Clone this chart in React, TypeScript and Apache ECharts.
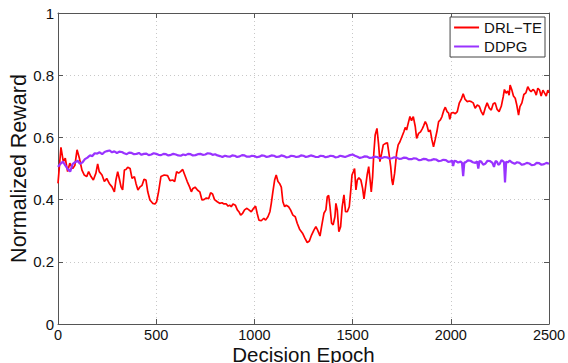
import React, { useEffect, useRef } from "react";
import * as echarts from "echarts";

const xTicks = [0, 500, 1000, 1500, 2000, 2500];
const yTicks = [0, 0.2, 0.4, 0.6, 0.8, 1];
const seriesNames = ["DRL−TE", "DDPG"];

const drlTe: [number, number][] = [
  [0,0.452],[15,0.568],[27,0.522],[37,0.533],[49,0.49],[60,0.517],[75,0.50],[86,0.51],[97,0.56],[109,0.533],
  [122,0.495],[134,0.479],[146,0.474],[156,0.49],[168,0.474],[180,0.463],[193,0.485],[202,0.515],[210,0.49],[224,0.479],
  [236,0.458],[248,0.468],[261,0.452],[275,0.441],[287,0.425],[295,0.463],[304,0.49],[312,0.468],[321,0.441],[329,0.431],
  [338,0.495],[346,0.497],[355,0.504],[367,0.50],[377,0.468],[389,0.474],[397,0.452],[407,0.431],[418,0.441],[428,0.446],
  [438,0.465],[448,0.463],[457,0.425],[468,0.399],[482,0.388],[494,0.386],[502,0.393],[512,0.425],[524,0.474],[541,0.479],
  [558,0.477],[570,0.461],[584,0.463],[594,0.458],[604,0.49],[614,0.485],[624,0.49],[635,0.497],[645,0.48],[658,0.458],
  [670,0.441],[679,0.425],[687,0.436],[698,0.44],[711,0.43],[722,0.425],[733,0.399],[743,0.40],[755,0.405],[767,0.403],
  [777,0.422],[787,0.418],[797,0.40],[811,0.393],[823,0.388],[835,0.39],[845,0.386],[857,0.386],[866,0.379],[874,0.382],
  [882,0.377],[891,0.386],[903,0.382],[913,0.367],[921,0.361],[930,0.35],[940,0.356],[950,0.367],[962,0.372],[972,0.367],
  [984,0.361],[996,0.372],[1006,0.379],[1014,0.356],[1023,0.334],[1035,0.332],[1048,0.34],[1057,0.334],[1069,0.345],[1079,0.361],
  [1086,0.388],[1094,0.425],[1103,0.463],[1111,0.479],[1120,0.458],[1128,0.452],[1137,0.44],[1145,0.393],[1154,0.377],[1162,0.382],
  [1174,0.377],[1184,0.367],[1196,0.35],[1208,0.345],[1218,0.324],[1230,0.305],[1245,0.292],[1257,0.276],[1269,0.262],[1280,0.267],
  [1291,0.286],[1303,0.302],[1313,0.313],[1322,0.302],[1334,0.283],[1342,0.313],[1354,0.356],[1364,0.367],[1371,0.409],[1378,0.414],
  [1385,0.377],[1393,0.324],[1401,0.319],[1410,0.345],[1415,0.388],[1422,0.367],[1430,0.297],[1439,0.313],[1447,0.377],[1456,0.415],
  [1464,0.361],[1473,0.361],[1483,0.377],[1490,0.425],[1497,0.479],[1504,0.49],[1510,0.5],[1517,0.431],[1524,0.463],[1532,0.47],
  [1542,0.463],[1551,0.436],[1558,0.402],[1566,0.441],[1574,0.479],[1582,0.506],[1589,0.463],[1595,0.425],[1602,0.474],[1608,0.549],
  [1615,0.608],[1624,0.629],[1632,0.58],[1639,0.522],[1648,0.549],[1656,0.576],[1666,0.58],[1677,0.583],[1685,0.549],[1694,0.506],
  [1700,0.463],[1705,0.447],[1714,0.485],[1724,0.549],[1732,0.576],[1741,0.586],[1751,0.602],[1761,0.618],[1768,0.632],[1775,0.624],
  [1783,0.645],[1792,0.667],[1800,0.654],[1809,0.667],[1819,0.635],[1826,0.597],[1836,0.613],[1846,0.618],[1856,0.629],[1862,0.638],
  [1870,0.651],[1878,0.64],[1887,0.618],[1895,0.624],[1904,0.592],[1912,0.57],[1920,0.592],[1929,0.618],[1938,0.651],[1947,0.656],
  [1955,0.667],[1965,0.688],[1972,0.697],[1981,0.683],[1989,0.678],[1995,0.658],[2002,0.678],[2012,0.68],[2023,0.676],[2033,0.683],
  [2043,0.71],[2053,0.722],[2063,0.74],[2073,0.722],[2084,0.715],[2094,0.717],[2104,0.715],[2114,0.711],[2124,0.694],[2135,0.704],
  [2145,0.70],[2155,0.683],[2165,0.672],[2175,0.694],[2185,0.711],[2196,0.694],[2206,0.688],[2216,0.708],[2226,0.711],[2236,0.69],
  [2246,0.683],[2257,0.70],[2267,0.731],[2273,0.754],[2282,0.742],[2290,0.749],[2297,0.736],[2302,0.768],[2311,0.752],[2319,0.733],
  [2328,0.726],[2336,0.704],[2345,0.672],[2352,0.699],[2362,0.711],[2372,0.738],[2382,0.743],[2392,0.763],[2401,0.752],[2409,0.747],
  [2418,0.754],[2426,0.75],[2435,0.736],[2443,0.758],[2452,0.752],[2460,0.733],[2469,0.752],[2477,0.743],[2486,0.733],[2494,0.752],
  [2500,0.743],
];

const ddpg: [number, number][] = [
  [0,0.505],[12,0.515],[25,0.522],[37,0.51],[50,0.498],[62,0.49],[75,0.515],[87,0.52],[100,0.525],[112,0.515],
  [125,0.52],[137,0.53],[150,0.535],[162,0.542],[175,0.54],[187,0.549],[200,0.548],[212,0.552],[225,0.546],[237,0.553],
  [250,0.556],[262,0.558],[275,0.552],[287,0.555],[300,0.55],[312,0.554],[325,0.553],[337,0.549],[350,0.546],[362,0.551],
  [375,0.55],[387,0.546],[400,0.547],[412,0.55],[425,0.544],[437,0.547],[450,0.548],[462,0.543],[475,0.545],[487,0.549],
  [500,0.547],[512,0.544],[525,0.543],[537,0.547],[550,0.546],[562,0.542],[575,0.544],[587,0.547],[600,0.545],[612,0.542],
  [625,0.541],[637,0.545],[650,0.543],[662,0.547],[675,0.546],[687,0.542],[700,0.543],[712,0.546],[725,0.547],[737,0.544],
  [750,0.545],[762,0.549],[775,0.548],[787,0.544],[800,0.546],[812,0.542],[825,0.540],[837,0.537],[850,0.541],[862,0.539],
  [875,0.538],[887,0.542],[900,0.541],[912,0.537],[925,0.539],[937,0.543],[950,0.542],[962,0.538],[975,0.538],[987,0.541],
  [1000,0.540],[1012,0.536],[1025,0.538],[1037,0.542],[1050,0.541],[1062,0.537],[1075,0.539],[1087,0.542],[1100,0.541],[1112,0.537],
  [1125,0.538],[1137,0.542],[1150,0.540],[1162,0.536],[1175,0.537],[1187,0.541],[1200,0.540],[1212,0.537],[1225,0.538],[1237,0.542],
  [1250,0.541],[1262,0.537],[1275,0.539],[1287,0.542],[1300,0.540],[1312,0.537],[1325,0.537],[1337,0.541],[1350,0.540],[1362,0.536],
  [1375,0.538],[1387,0.541],[1400,0.540],[1412,0.536],[1425,0.537],[1437,0.541],[1450,0.539],[1462,0.537],[1475,0.540],[1487,0.543],
  [1500,0.545],[1512,0.541],[1525,0.538],[1537,0.534],[1550,0.536],[1562,0.539],[1575,0.538],[1587,0.534],[1600,0.535],[1612,0.538],
  [1625,0.537],[1637,0.533],[1650,0.534],[1662,0.537],[1675,0.536],[1687,0.532],[1700,0.533],[1712,0.536],[1725,0.535],[1737,0.531],
  [1750,0.532],[1762,0.535],[1775,0.534],[1787,0.53],[1800,0.530],[1812,0.533],[1825,0.532],[1837,0.527],[1850,0.528],[1862,0.531],
  [1875,0.530],[1887,0.526],[1900,0.527],[1912,0.53],[1925,0.529],[1937,0.524],[1950,0.525],[1962,0.528],[1975,0.527],[1987,0.521],
  [2000,0.523],[2006,0.526],[2012,0.508],[2018,0.525],[2025,0.524],[2037,0.519],[2050,0.522],[2057,0.518],[2063,0.475],[2069,0.52],
  [2075,0.520],[2087,0.526],[2100,0.525],[2112,0.52],[2125,0.518],[2134,0.523],[2140,0.500],[2146,0.524],[2155,0.522],[2165,0.512],
  [2175,0.515],[2187,0.525],[2200,0.524],[2212,0.518],[2220,0.505],[2228,0.524],[2235,0.522],[2242,0.512],[2250,0.516],[2258,0.527],
  [2265,0.524],[2271,0.52],[2276,0.455],[2282,0.522],[2290,0.52],[2300,0.525],[2312,0.519],[2325,0.515],[2337,0.52],[2350,0.518],
  [2362,0.512],[2375,0.514],[2387,0.518],[2400,0.516],[2412,0.511],[2425,0.512],[2437,0.518],[2450,0.517],[2462,0.512],[2475,0.514],
  [2487,0.518],[2500,0.515],
];

const FONT = "Liberation Sans, Arial, sans-serif";

export default function App() {
  const ref = useRef<HTMLDivElement>(null);
  useEffect(() => {
    if (!ref.current) return;
    const chart = echarts.init(ref.current, undefined, { renderer: "svg" });
    const xMin = xTicks[0], xMax = xTicks[xTicks.length - 1];
    const yMin = yTicks[0], yMax = yTicks[yTicks.length - 1];
    const xInt = xTicks[1] - xTicks[0];
    const yInt = yTicks[1] - yTicks[0];
    const axisColor = "#555";
    const gridColor = "#c8c8c8";
    const option: any = {
      animation: false,
      backgroundColor: "#fff",
      grid: { left: 58, right: 19, top: 13, bottom: 39, show: false, containLabel: false, outerBoundsMode: "none" },
      legend: {
        orient: "vertical",
        right: 23,
        top: 17,
        backgroundColor: "#fff",
        borderColor: "#444",
        borderWidth: 1,
        borderRadius: 0,
        padding: [3, 3, 3, 4],
        itemWidth: 25,
        itemHeight: 2,
        itemGap: 4,
        textStyle: { fontSize: 15, fontFamily: FONT, color: "#111" },
        data: seriesNames.map((n) => ({ name: n, icon: "rect" })),
      },
      xAxis: [
        {
          type: "value",
          min: xMin,
          max: xMax,
          interval: xInt,
          name: "Decision Epoch",
          nameLocation: "middle",
          nameGap: 20,
          nameMoveOverlap: false,
          nameTextStyle: { fontSize: 20.5, lineHeight: 20, fontFamily: FONT, color: "#111" },
          axisLine: { show: true, lineStyle: { color: axisColor, width: 1 } },
          axisTick: { show: true, inside: true, length: 5, lineStyle: { color: axisColor } },
          axisLabel: { fontSize: 14.5, lineHeight: 14, fontFamily: FONT, color: "#111", margin: 4, formatter: (v: number) => String(v) },
          splitLine: { show: true, lineStyle: { type: [1, 3], color: gridColor, width: 1 } },
        },
        {
          type: "value",
          position: "top",
          min: xMin,
          max: xMax,
          interval: xInt,
          axisLine: { show: true, onZero: false, lineStyle: { color: axisColor, width: 1 } },
          axisTick: { show: true, inside: true, length: 5, lineStyle: { color: axisColor } },
          axisLabel: { show: false },
          splitLine: { show: false },
        },
      ],
      yAxis: [
        {
          type: "value",
          min: yMin,
          max: yMax,
          interval: yInt,
          name: "Normalized Reward",
          nameLocation: "middle",
          nameGap: 28,
          nameMoveOverlap: false,
          nameTextStyle: { fontSize: 21.5, fontFamily: FONT, color: "#111" },
          axisLine: { show: true, lineStyle: { color: axisColor, width: 1 } },
          axisTick: { show: true, inside: true, length: 5, lineStyle: { color: axisColor } },
          axisLabel: { fontSize: 15, fontFamily: FONT, color: "#111", margin: 4, formatter: (v: number) => String(v) },
          splitLine: { show: true, lineStyle: { type: [1, 3], color: gridColor, width: 1 } },
        },
        {
          type: "value",
          position: "right",
          min: yMin,
          max: yMax,
          interval: yInt,
          axisLine: { show: true, onZero: false, lineStyle: { color: axisColor, width: 1 } },
          axisTick: { show: true, inside: true, length: 5, lineStyle: { color: axisColor } },
          axisLabel: { show: false },
          splitLine: { show: false },
        },
      ],
      series: [
        {
          name: seriesNames[0],
          type: "line",
          data: drlTe,
          showSymbol: false,
          symbol: "none",
          lineStyle: { color: "#ff0000", width: 1.7 },
          itemStyle: { color: "#ff0000" },
        },
        {
          name: seriesNames[1],
          type: "line",
          data: ddpg,
          showSymbol: false,
          symbol: "none",
          lineStyle: { color: "#9933ff", width: 2.2 },
          itemStyle: { color: "#9933ff" },
        },
      ],
    };
    chart.setOption(option);
    return () => chart.dispose();
  }, []);
  return (
    <div
      ref={ref}
      style={{ position: "fixed", left: 0, top: 0, width: 568, height: 363, background: "#fff" }}
    />
  );
}
